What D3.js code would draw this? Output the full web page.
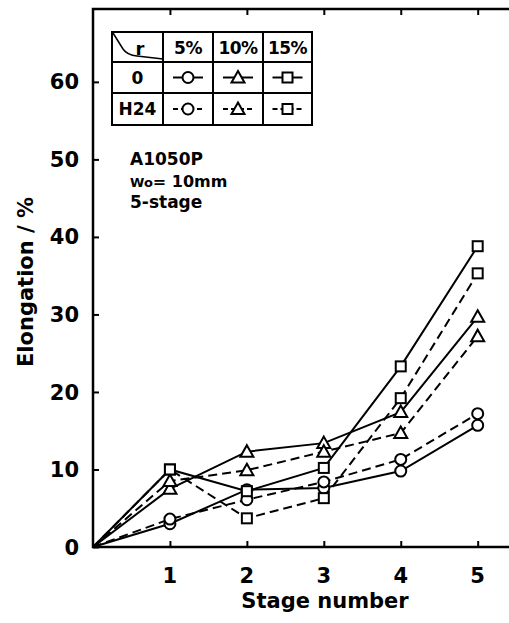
<!DOCTYPE html>
<html><head><meta charset="utf-8">
<script src="https://cdn.jsdelivr.net/npm/d3@7"></script>
<style>body{margin:0;background:#fff;} svg{display:block;}</style>
</head><body><svg id="c" width="509" height="623"></svg>
<script>
const stages = [0, 1, 2, 3, 4, 5];
const o5  = [0, 3.0, 7.4, 7.6, 9.8, 15.7];
const h5  = [0, 3.6, 6.1, 8.4, 11.3, 17.2];
const o10 = [0, 7.5, 12.3, 13.4, 17.4, 29.7];
const h10 = [0, 8.5, 9.9, 12.3, 14.7, 27.2];
const o15 = [0, 10.0, 7.2, 10.2, 23.3, 38.8];
const h15 = [0, 10.0, 3.7, 6.3, 19.2, 35.3];
const yTicks = [0, 10, 20, 30, 40, 50, 60];
const xTicks = [1, 2, 3, 4, 5];
const rowLabels = ["0", "H24"];
const colLabels = ["5%", "10%", "15%"];

const series = [
  {v: o5, m: "circle", dash: false}, {v: h5, m: "circle", dash: true},
  {v: o10, m: "triangle", dash: false}, {v: h10, m: "triangle", dash: true},
  {v: o15, m: "square", dash: false}, {v: h15, m: "square", dash: true}
];

const svg = d3.select("#c");
const FONT = "DejaVu Sans";
const x = d3.scaleLinear().domain([0, 5.42]).range([93, 510]);
const y = d3.scaleLinear().domain([0, 69.4]).range([547, 9]);

// frame
svg.append("path").attr("d", `M${x(5.42)},${y(69.4)} L${x(0)},${y(69.4)} L${x(0)},${y(0)} L${x(5.42)},${y(0)}`)
  .attr("fill", "none").attr("stroke", "#000").attr("stroke-width", 2.5);

// y axis ticks inward
const ya = d3.axisRight(y).tickValues(yTicks).tickSize(6).tickFormat("");
const yg = svg.append("g").attr("transform", `translate(${x(0)},0)`).call(ya);
yg.select(".domain").remove();
yg.selectAll("line").attr("stroke-width", 2);
yTicks.forEach(t => svg.append("text").attr("x", 79).attr("y", y(t)).attr("dy", "0.36em")
  .attr("text-anchor", "end").attr("font-family", FONT).attr("font-weight", "bold")
  .attr("font-size", 21).text(t));

// x axis ticks inward (bottom up, top down)
const xa = d3.axisTop(x).tickValues(xTicks).tickSize(6).tickFormat("");
const xg = svg.append("g").attr("transform", `translate(0,${y(0)})`).call(xa);
xg.select(".domain").remove();
xg.selectAll("line").attr("stroke-width", 2);
const xt = d3.axisBottom(x).tickValues(xTicks).tickSize(6).tickFormat("");
const xtg = svg.append("g").attr("transform", `translate(0,${y(69.4)})`).call(xt);
xtg.select(".domain").remove();
xtg.selectAll("line").attr("stroke-width", 2);
xTicks.forEach(t => svg.append("text").attr("x", x(t)).attr("y", 583)
  .attr("text-anchor", "middle").attr("font-family", FONT).attr("font-weight", "bold")
  .attr("font-size", 21).text(t));

svg.append("text").attr("x", 325).attr("y", 608).attr("text-anchor", "middle")
  .attr("font-family", FONT).attr("font-weight", "bold").attr("font-size", 21).text("Stage number");
svg.append("text").attr("transform", "translate(33,282) rotate(-90)").attr("text-anchor", "middle")
  .attr("font-family", FONT).attr("font-weight", "bold").attr("font-size", 21).text("Elongation / %");

// annotation
svg.append("text").attr("x", 130).attr("y", 165).attr("font-family", FONT).attr("font-weight", "bold")
  .attr("font-size", 17).text("A1050P");
const wt = svg.append("text").attr("x", 130).attr("y", 187).attr("font-family", FONT).attr("font-weight", "bold").attr("font-size", 16);
wt.append("tspan").attr("font-size", 13).text("Wo");
wt.append("tspan").text("= 10mm");
svg.append("text").attr("x", 130).attr("y", 208).attr("font-family", FONT).attr("font-weight", "bold")
  .attr("font-size", 17).text("5-stage");

// markers
function marker(g, type, cx, cy) {
  if (type === "circle") g.append("circle").attr("cx", cx).attr("cy", cy).attr("r", 5.5);
  else if (type === "square") g.append("rect").attr("x", cx - 5).attr("y", cy - 5).attr("width", 10).attr("height", 10);
  else g.append("path").attr("d", `M${cx},${cy - 6.5} L${cx + 6.5},${cy + 5} L${cx - 6.5},${cy + 5} Z`);
}

const line = d3.line().x((d, i) => x(stages[i])).y(d => y(d));
const lg = svg.append("g");
series.forEach(s => {
  lg.append("path").datum(s.v).attr("d", line).attr("fill", "none").attr("stroke", "#000")
    .attr("stroke-width", 2).attr("stroke-dasharray", s.dash ? "9,5" : null);
});
const mg = svg.append("g").attr("fill", "#fff").attr("stroke", "#000").attr("stroke-width", 2);
series.forEach(s => {
  s.v.forEach((v, i) => { if (stages[i] > 0) marker(mg, s.m, x(stages[i]), y(v)); });
});

// legend table
const colX = [112, 163, 213, 263, 312];
const rowY = [32, 62, 93, 125];
const tg = svg.append("g");
tg.append("rect").attr("x", colX[0]).attr("y", rowY[0]).attr("width", colX[4] - colX[0]).attr("height", rowY[3] - rowY[0])
  .attr("fill", "#fff").attr("stroke", "#000").attr("stroke-width", 2);
colX.slice(1, 4).forEach(cx => tg.append("line").attr("x1", cx).attr("x2", cx).attr("y1", rowY[0]).attr("y2", rowY[3]).attr("stroke", "#000").attr("stroke-width", 2));
rowY.slice(1, 3).forEach(ry => tg.append("line").attr("x1", colX[0]).attr("x2", colX[4]).attr("y1", ry).attr("y2", ry).attr("stroke", "#000").attr("stroke-width", 2));
tg.append("path").attr("d", `M${colX[0] + 1},${rowY[0] + 1} L${colX[0] + 11},${rowY[0] + 17} Q${colX[0] + 15},${rowY[0] + 23} ${colX[0] + 25},${rowY[0] + 24} L${colX[1]},${rowY[1] - 3}`)
  .attr("fill", "none").attr("stroke", "#000").attr("stroke-width", 1.5);
tg.append("text").attr("x", 140).attr("y", 55).attr("text-anchor", "middle").attr("font-family", FONT)
  .attr("font-weight", "bold").attr("font-size", 18).text("r");
colLabels.forEach((c, i) => tg.append("text").attr("x", (colX[i + 1] + colX[i + 2]) / 2).attr("y", 54)
  .attr("text-anchor", "middle").attr("font-family", FONT).attr("font-weight", "bold").attr("font-size", 17)
  .attr("letter-spacing", -0.5).text(c));
rowLabels.forEach((r, i) => tg.append("text").attr("x", (colX[0] + colX[1]) / 2).attr("y", (rowY[i + 1] + rowY[i + 2]) / 2)
  .attr("dy", "0.36em").attr("text-anchor", "middle").attr("font-family", FONT).attr("font-weight", "bold")
  .attr("font-size", 17).text(r));
const mtypes = ["circle", "triangle", "square"];
rowLabels.forEach((r, ri) => {
  mtypes.forEach((m, ci) => {
    const cx = (colX[ci + 1] + colX[ci + 2]) / 2, cy = (rowY[ri + 1] + rowY[ri + 2]) / 2;
    tg.append("line").attr("x1", cx - 15).attr("x2", cx + 15).attr("y1", cy).attr("y2", cy)
      .attr("stroke", "#000").attr("stroke-width", 2).attr("stroke-dasharray", ri === 1 ? "5,3" : null);
    const g = tg.append("g").attr("fill", "#fff").attr("stroke", "#000").attr("stroke-width", 2);
    marker(g, m, cx, cy);
  });
});
</script></body></html>
